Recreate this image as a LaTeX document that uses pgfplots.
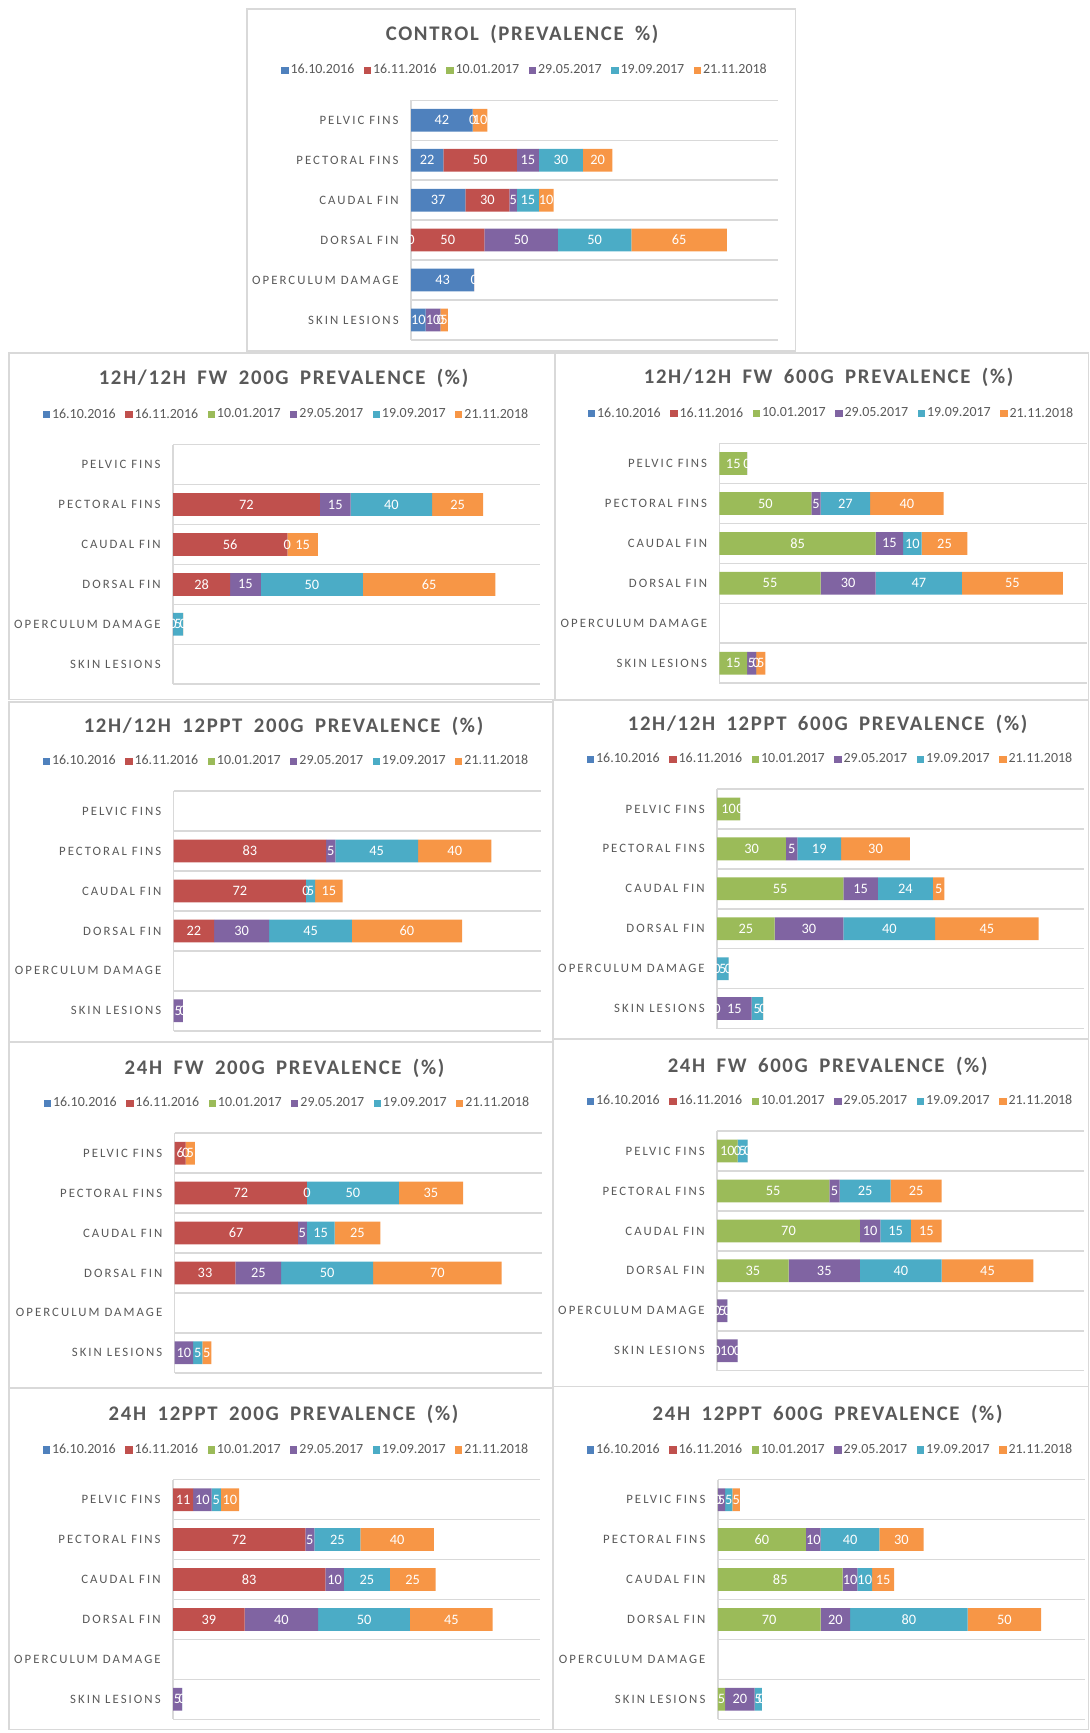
\documentclass[border=0pt]{standalone}
\usepackage{fontspec}
\setmainfont{Carlito}
\newfontfamily\catfont[LetterSpace=16]{Carlito}
\newfontfamily\titfont[LetterSpace=8,WordSpace=1.8]{Carlito}
\usepackage{pgfplots}
\usepackage{pgfplotstable}
\pgfplotsset{compat=1.18}
\definecolor{cA}{HTML}{4F81BD}
\definecolor{cB}{HTML}{C0504D}
\definecolor{cC}{HTML}{9BBB59}
\definecolor{cD}{HTML}{8064A2}
\definecolor{cE}{HTML}{4BACC6}
\definecolor{cF}{HTML}{F79646}
\definecolor{txt}{HTML}{595959}
\definecolor{grd}{HTML}{D9D9D9}

% columns: a=16.10.2016 b=16.11.2016 c=10.01.2017 d=29.05.2017 e=19.09.2017 f=21.11.2018
% rows: pelvic, pectoral, caudal, dorsal, operculum, skin ; 0.001 = a zero that is labelled
\pgfplotstableread{
a b c d e f
42 0 0 0 0.001 10
22 50 0 15 30 20
37 30 0 5 15 10
0.001 50 0 50 50 65
43 0.001 0 0 0 0
10 0 0 10 0.001 5
}\tA
\pgfplotstableread{
a b c d e f
0 0 0 0 0 0
0 72 0 15 40 25
0 56 0 0.001 0 15
0 28 0 15 50 65
0 0 0 0.001 5 0.001
0 0 0 0 0 0
}\tB
\pgfplotstableread{
a b c d e f
0 0 15 0.001 0 0
0 0 50 5 27 40
0 0 85 15 10 25
0 0 55 30 47 55
0 0 0 0 0 0
0 0 15 5 0.001 5
}\tC
\pgfplotstableread{
a b c d e f
0 0 0 0 0 0
0 83 0 5 45 40
0 72 0 0.001 5 15
0 22 0 30 45 60
0 0 0 0 0 0
0 0 0 5 0.001 0
}\tD
\pgfplotstableread{
a b c d e f
0 0 10 0.001 0 0
0 0 30 5 19 30
0 0 55 15 24 5
0 0 25 30 40 45
0 0 0 0.001 5 0.001
0 0 0.001 15 5 0.001
}\tE
\pgfplotstableread{
a b c d e f
0 6 0 0.001 0 5
0 72 0 0.001 50 35
0 67 0 5 15 25
0 33 0 25 50 70
0 0 0 0 0 0
0 0 0 10 5 5
}\tF
\pgfplotstableread{
a b c d e f
0 0 10 0.001 5 0.001
0 0 55 5 25 25
0 0 70 10 15 15
0 0 35 35 40 45
0 0 0.001 5 0.001 0
0 0 0.001 10 0.001 0
}\tG
\pgfplotstableread{
a b c d e f
0 11 0 10 5 10
0 72 0 5 25 40
0 83 0 10 25 25
0 39 0 40 50 45
0 0 0 0 0 0
0 0 0 5 0.001 0
}\tH
\pgfplotstableread{
a b c d e f
0 0 0.001 5 5 5
0 0 60 10 40 30
0 0 85 10 10 15
0 0 70 20 80 50
0 0 0 0 0 0
0 0 5 20 5 0.001
}\tI

% #1 title, #2 plot left px, #3 plot top px, #4 xmax, #5 centre x px, #6 title y px, #7 legend y px, #8 table
\newcommand\panel[8]{%
\begin{axis}[
  at={({#2*0.5pt},{-#3*0.5pt})}, anchor=north west,
  scale only axis, width=184pt, height=120pt,
  xbar stacked, bar width=0.57,
  xmin=0, xmax=#4, ymin=-0.5, ymax=5.5, y dir=reverse,
  enlargelimits=false,
  axis line style={draw=none},
  xtick={0}, xticklabels={}, xmajorgrids,
  ytick={0,...,5},
  yticklabels={PELVIC FINS,PECTORAL FINS,CAUDAL FIN,DORSAL FIN,OPERCULUM DAMAGE,SKIN LESIONS},
  minor ytick={-0.5,0.5,...,5.5}, yminorgrids,
  major tick length=0pt, minor tick length=0pt, tick style={draw=none},
  grid style={grd,line width=0.75pt},
  yticklabel style={font=\catfont\fontsize{6.4}{7}\selectfont, text=txt, inner sep=0pt, xshift=-6pt},
  every axis title/.style={at={({(#5-#2)/368},{1+(#3-#6)/240})},anchor=center,
     font=\titfont\bfseries\fontsize{10.4}{12}\selectfont,text=txt},
  title={#1},
  legend columns=6,
  legend style={at={({(#5+3-#2)/368},{1+(#3-#7)/240})},anchor=center,draw=none,fill=none,
     font=\fontsize{7}{8}\selectfont,text=txt,nodes={inner sep=1pt},
     /tikz/every even column/.append style={column sep=3.8pt}},
  legend image code/.code={\fill[##1] (0pt,-1.8pt) rectangle (3.6pt,1.8pt);},
  point meta=explicit symbolic,
  set layers, mark layer=axis foreground,
  nodes near coords={\ifdim\pgfplotspointmeta pt=0pt\else\ifdim\pgfplotspointmeta pt<0.5pt 0\else\pgfplotspointmeta\fi\fi},
  every node near coord/.append style={anchor=center,font=\fontsize{7.2}{8}\selectfont,text=white,
     inner sep=0pt},
]
\addplot[fill=cA,draw=none] table[x=a,y expr=\coordindex,meta=a]{#8};
\addplot[fill=cB,draw=none] table[x=b,y expr=\coordindex,meta=b]{#8};
\addplot[fill=cC,draw=none] table[x=c,y expr=\coordindex,meta=c]{#8};
\addplot[fill=cD,draw=none] table[x=d,y expr=\coordindex,meta=d]{#8};
\addplot[fill=cE,draw=none] table[x=e,y expr=\coordindex,meta=e]{#8};
\addplot[fill=cF,draw=none] table[x=f,y expr=\coordindex,meta=f]{#8};
\legend{16.10.2016,16.11.2016,10.01.2017,29.05.2017,19.09.2017,21.11.2018}
\end{axis}}

\begin{document}
\begin{tikzpicture}
\begin{scope}[x=0.5pt,y=-0.5pt]
\useasboundingbox (0,0) rectangle (1091,1733);
\draw[grd,line width=0.8pt] (247.6,8.8) rectangle (797,351.5);
\draw[grd,line width=0.8pt] (8.8,353.7) rectangle (556,700.8);
\draw[grd,line width=0.8pt] (556,353.7) rectangle (1090.3,700.8);
\draw[grd,line width=0.8pt] (8.8,703) rectangle (554,1043.5);
\draw[grd,line width=0.8pt] (554,701.5) rectangle (1090.3,1041);
\draw[grd,line width=0.8pt] (8.8,1043.5) rectangle (554,1390.6);
\draw[grd,line width=0.8pt] (554,1041) rectangle (1090.3,1389);
\draw[grd,line width=0.8pt] (8.8,1390.6) rectangle (554,1732.5);
\draw[grd,line width=0.8pt] (554,1389) rectangle (1090.3,1732.5);
\end{scope}
\panel{CONTROL (PREVALENCE \%)}{411.7}{100.5}{250}{523}{34.3}{70.7}{\tA}
\panel{12H/12H FW 200G PREVALENCE (\%)}{173.3}{445.4}{180}{284}{379.2}{415.6}{\tB}
\panel{12H/12H FW 600G PREVALENCE (\%)}{720.7}{444.3}{200}{830}{378}{414.5}{\tC}
\panel{12H/12H 12PPT 200G PREVALENCE (\%)}{174}{792.5}{200}{284}{727.4}{762.7}{\tD}
\panel{12H/12H 12PPT 600G PREVALENCE (\%)}{718.3}{790.3}{160}{829}{725.1}{760.5}{\tE}
\panel{24H FW 200G PREVALENCE (\%)}{175}{1135.1}{200}{285}{1070}{1105.4}{\tF}
\panel{24H FW 600G PREVALENCE (\%)}{718.3}{1133}{180}{829}{1067.8}{1103.2}{\tG}
\panel{24H 12PPT 200G PREVALENCE (\%)}{173.3}{1482.2}{200}{284}{1417.1}{1452.5}{\tH}
\panel{24H 12PPT 600G PREVALENCE (\%)}{719}{1482.2}{250}{829}{1417.1}{1452.5}{\tI}
\end{tikzpicture}
\end{document}
